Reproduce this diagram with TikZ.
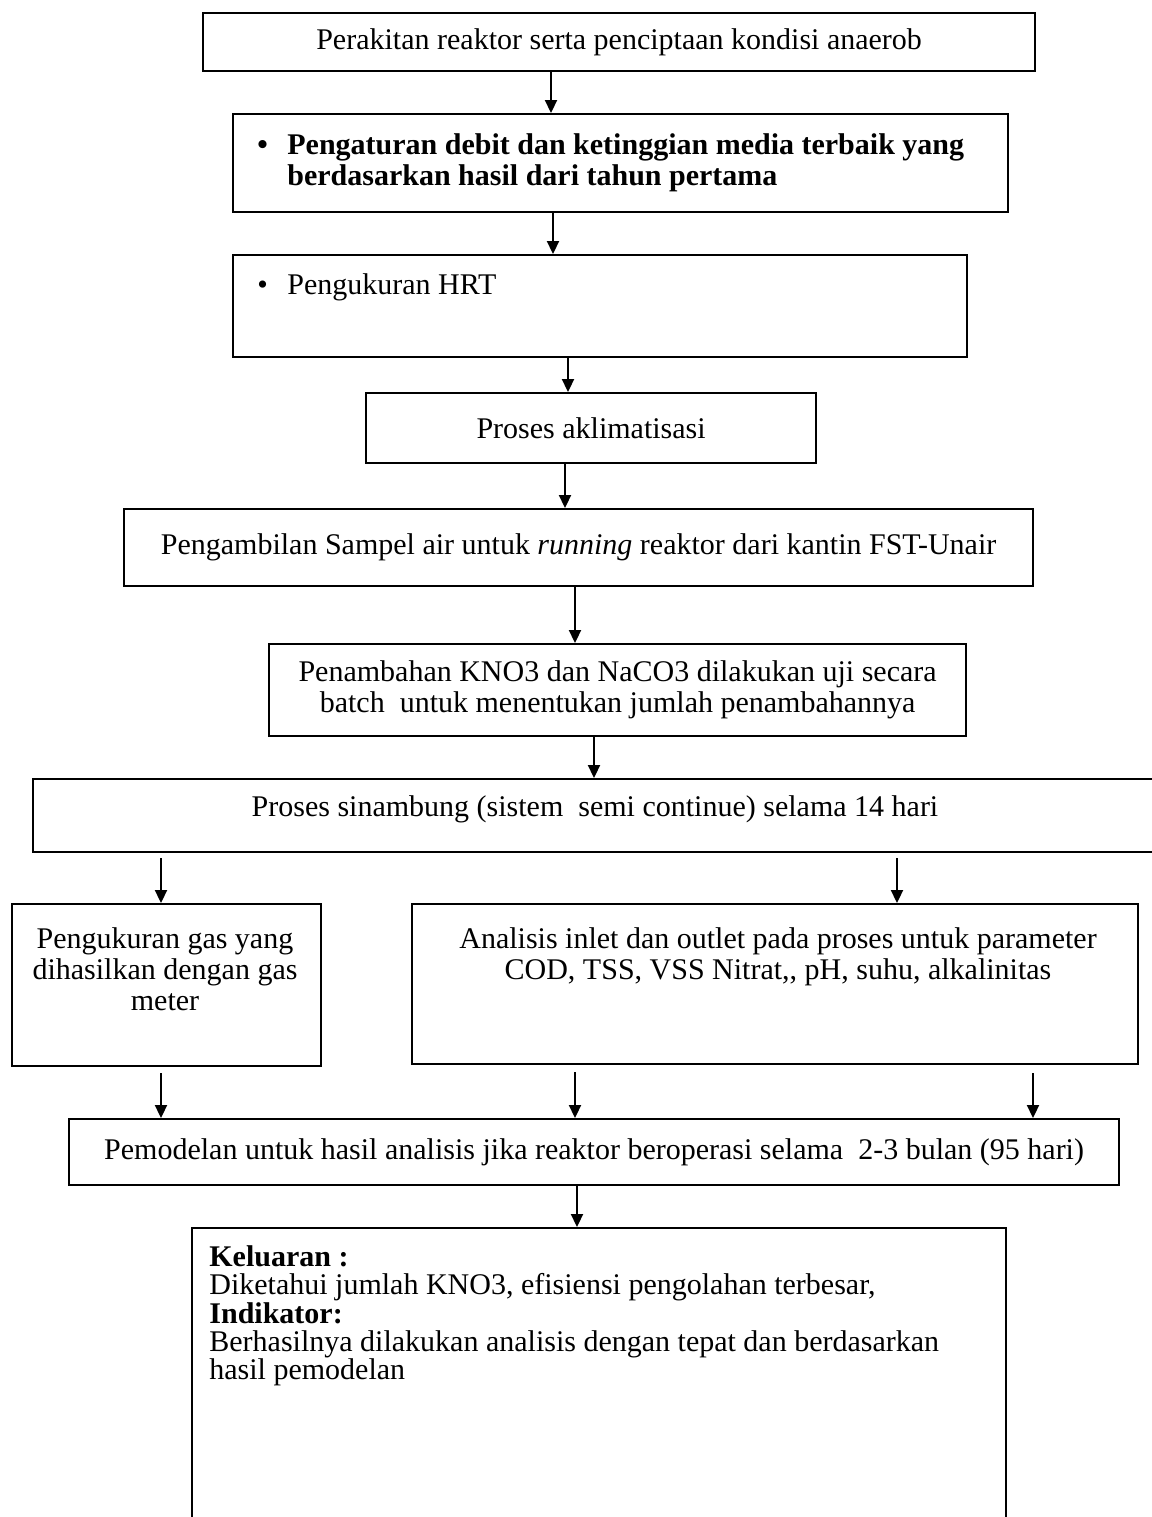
\documentclass[tikz,border=0pt]{standalone}
\usepackage{fontspec}
\setmainfont{Liberation Serif}
\usetikzlibrary{arrows.meta,positioning}

\begin{document}
\begin{tikzpicture}[x=0.5pt,y=-0.5pt,>={Triangle[length=6.5pt,width=6pt]},
  box/.style={draw,line width=1.1pt,anchor=north west,inner sep=0pt,
    font=\fontsize{15}{15.5}\selectfont,align=center},
  txt/.style={inner sep=0pt,font=\fontsize{15}{15.5}\selectfont},
  arr/.style={->,line width=1.1pt}]
  \useasboundingbox (0,0) rectangle (1152,1517);
  \clip (0,0) rectangle (1152,1517);
  % upper chain
  \node[box,minimum width=416pt,minimum height=29pt] (b1) at (202,12)
    {Perakitan reaktor serta penciptaan kondisi anaerob};
  \node[box,minimum width=387.5pt,minimum height=49pt] (b2) at (232,113) {};
  \node[txt,anchor=north west,align=left,font=\fontsize{15}{15.5}\selectfont\bfseries] (t2) at (257,133)
    {\makebox[15pt][l]{\textbullet}Pengaturan debit dan ketinggian media terbaik yang\\
     \hspace*{15pt}berdasarkan hasil dari tahun pertama};
  \node[box,minimum width=367pt,minimum height=51pt] (b3) at (232,254) {};
  \node[txt,anchor=west] (t3) at (257,287) {\makebox[15pt][l]{\textbullet}Pengukuran HRT};
  \node[box,minimum width=225pt,minimum height=35pt] (b4) at (365,392) {Proses aklimatisasi};
  \node[box,minimum width=454.5pt,minimum height=38.5pt] (b5) at (123,508)
    {Pengambilan Sampel air untuk \textit{running} reaktor dari kantin FST-Unair};
  \node[box,minimum width=348.5pt,minimum height=46pt] (b6) at (268,643)
    {Penambahan KNO3 dan NaCO3 dilakukan uji secara\\batch\ \ untuk menentukan jumlah penambahannya};
  \node[box,minimum width=564pt,minimum height=36.5pt] (b7) at (32,778) {};
  \node[txt] (t7) at (595,809) {Proses sinambung (sistem\ \ semi continue) selama 14 hari};
  % two branches
  \node[box,minimum width=154.5pt,minimum height=81pt] (b8l) at (11,903) {};
  \node[txt,anchor=north,align=center] (t8l) at (165,927)
    {Pengukuran gas yang\\dihasilkan dengan gas\\meter};
  \node[box,minimum width=363pt,minimum height=80pt] (b8r) at (411,903) {};
  \node[txt,anchor=north,align=center] (t8r) at (778,927)
    {Analisis inlet dan outlet pada proses untuk parameter\\COD, TSS, VSS Nitrat,{}, pH, suhu, alkalinitas};
  \node[box,minimum width=525pt,minimum height=33pt] (b9) at (68,1118)
    {Pemodelan untuk hasil analisis jika reaktor beroperasi selama\ \ 2-3 bulan (95 hari)};
  \node[box,minimum width=407pt,minimum height=155pt] (b10) at (191,1227) {};
  \node[txt,anchor=north west,align=left,font=\fontsize{15}{14.2}\selectfont] (t10) at (209,1245)
    {\textbf{Keluaran :}\\
     Diketahui jumlah KNO3, efisiensi pengolahan terbesar,\\
     \textbf{Indikator:}\\
     Berhasilnya dilakukan analisis dengan tepat dan berdasarkan\\
     hasil pemodelan};
  % free arrow starts
  \coordinate (s7l) at (161,858);
  \coordinate (s7r) at (897,858);
  \coordinate (s8l) at (161,1073);
  \coordinate (s8m) at (575,1072);
  \coordinate (s8r) at (1033,1073);
  % arrows
  \draw[arr] (b1.south -| 551,0) -- (b2.north -| 551,0);
  \draw[arr] (b2.south -| 553,0) -- (b3.north -| 553,0);
  \draw[arr] (b3.south -| 568,0) -- (b4.north -| 568,0);
  \draw[arr] (b4.south -| 565,0) -- (b5.north -| 565,0);
  \draw[arr] (b5.south -| 575,0) -- (b6.north -| 575,0);
  \draw[arr] (b6.south -| 594,0) -- (b7.north -| 594,0);
  \draw[arr] (s7l) -- (b8l.north -| s7l);
  \draw[arr] (s7r) -- (b8r.north -| s7r);
  \draw[arr] (s8l) -- (b9.north -| s8l);
  \draw[arr] (s8m) -- (b9.north -| s8m);
  \draw[arr] (s8r) -- (b9.north -| s8r);
  \draw[arr] (b9.south -| 577,0) -- (b10.north -| 577,0);
\end{tikzpicture}
\end{document}
